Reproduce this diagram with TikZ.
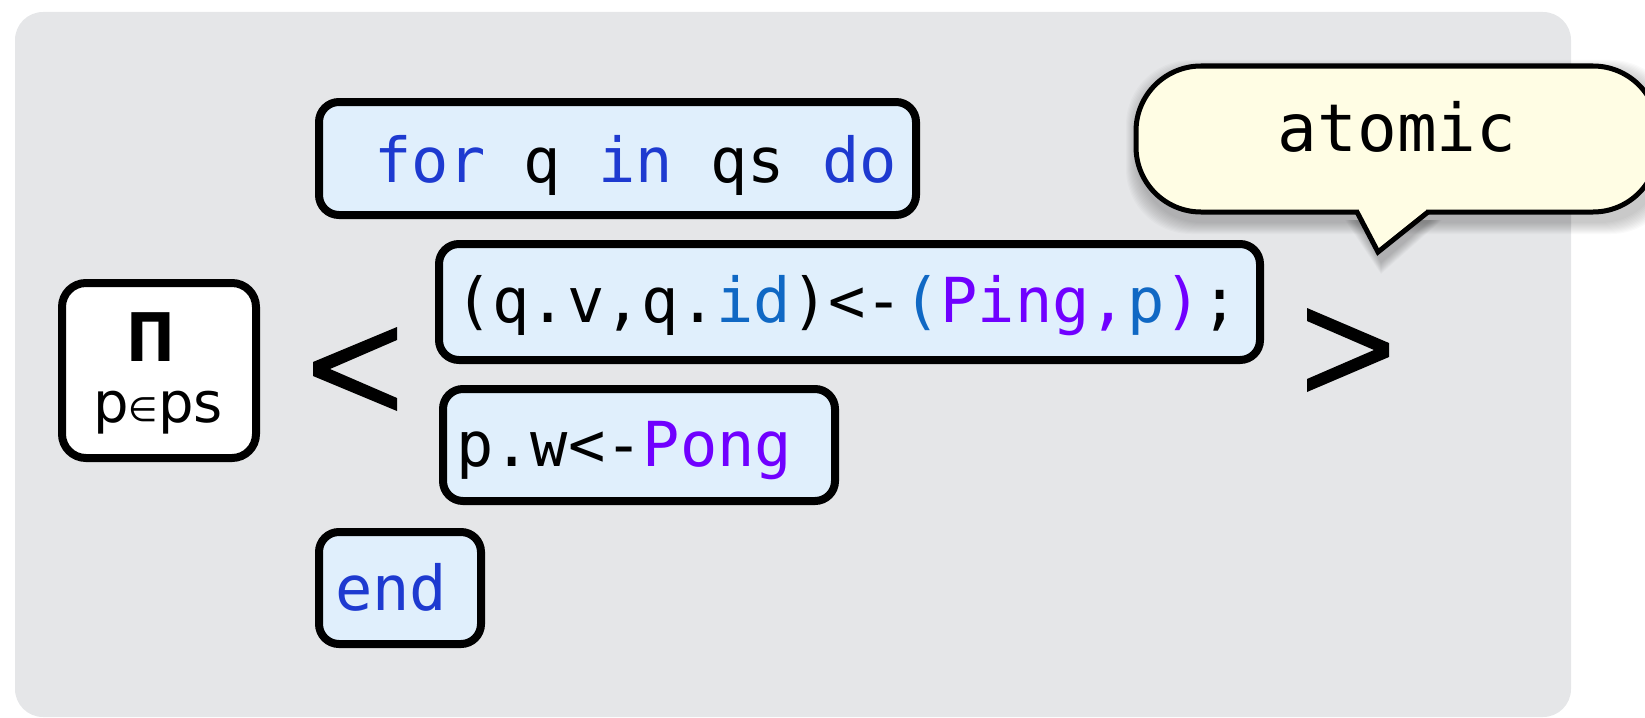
\documentclass[tikz,border=0pt]{standalone}
\usepackage{fontspec}
\usepackage{graphicx}
\newfontfamily\codefont{DejaVu Sans Mono}
\newfontfamily\labelfont{DejaVu Sans}
\definecolor{bggray}{RGB}{229,230,232}
\definecolor{boxfill}{RGB}{224,239,252}
\definecolor{kwblue}{RGB}{30,58,208}
\definecolor{idblue}{RGB}{16,104,196}
\definecolor{purp}{RGB}{112,0,255}
\definecolor{bubblefill}{RGB}{255,253,228}
\tikzset{
  codebox/.style={draw=black, line width=8pt, fill=boxfill, rounded corners=20pt, inner sep=0pt, outer sep=0pt},
  pibox/.style={draw=black, line width=8pt, fill=white, rounded corners=24pt, inner sep=0pt, outer sep=0pt},
  codetext/.style={anchor=base west, inner sep=0pt, font=\codefont\fontsize{62}{70}\selectfont},
  bubbletext/.style={anchor=base, inner sep=0pt, font=\codefont\fontsize{66}{70}\selectfont},
  chevron/.style={fill=black},
  bubbleline/.style={draw=black, line width=5pt, fill=bubblefill},
}
\begin{document}
\begin{tikzpicture}[x=1pt,y=-1pt]
\useasboundingbox (0,0) rectangle (1645,717);
\clip (0,0) rectangle (1645,717);
% background panel
\fill[bggray, rounded corners=28pt] (15,12) rectangle (1571,717);

% code boxes
\node[codebox, minimum width=597pt, minimum height=113pt] (box1) at (617.5,158.5) {};
\node[codetext] (t1) at (374,182) {\textcolor{kwblue}{for} q \textcolor{kwblue}{in} qs \textcolor{kwblue}{do}};

\node[codebox, minimum width=821pt, minimum height=116pt] (box2) at (849.5,302) {};
\node[codetext] (t2) at (455,322) {(q.v,q.\textcolor{idblue}{id})<-\textcolor{idblue}{(}\textcolor{purp}{Ping,}\textcolor{idblue}{p}\textcolor{purp}{)};};

\node[codebox, minimum width=392pt, minimum height=112pt] (box3) at (639,445) {};
\node[codetext] (t3) at (456,466) {p.w<-\textcolor{purp}{Pong}};

\node[codebox, minimum width=162pt, minimum height=112pt] (box4) at (400,588) {};
\node[codetext] (t4) at (335,610) {\textcolor{kwblue}{end}};

% product box
\node[pibox, minimum width=194pt, minimum height=175pt] (pbox) at (159,370.5) {};
\node[anchor=base, inner sep=0pt, xscale=0.87, font=\labelfont\bfseries\fontsize{67}{70}\selectfont] (pi) at (151,361) {Π};
\node[anchor=base, inner sep=0pt, font=\labelfont\fontsize{56}{60}\selectfont] (pin) at (158,422) {p\raisebox{1pt}{\scalebox{0.6}{∈}}ps};

% angle brackets
\fill[chevron] (397,327) -- (313,362) -- (313,376) -- (397,411) -- (397,398) -- (330,369) -- (397,340) -- cycle;
\fill[chevron] (1307,308) -- (1389,343) -- (1389,357) -- (1307,392) -- (1307,379) -- (1374,350) -- (1307,321) -- cycle;

% bubble shadow
\foreach \i in {1,...,12} {
  \fill[black, opacity=0.018, rounded corners=65pt] (1138-\i,72-\i) rectangle (1664+\i,222+\i);
  \fill[black, opacity=0.018] (1357-\i,220) -- (1381,262+\i) -- (1430+\i,220) -- cycle;
}
% bubble
\draw[bubbleline, rounded corners=65pt] (1136,66) rectangle (1658,212);
\fill[bubblefill] (1359,206) -- (1359,212) -- (1378,251) -- (1426,212) -- (1426,206) -- cycle;
\coordinate (tl) at (1357,212);
\coordinate (tp) at (1378,252);
\coordinate (tr) at (1428,212);
\draw[black, line width=5pt, line join=miter] (tl) -- (tp) -- (tr);
\node[bubbletext] (atomic) at (1397,151) {atomic};
\end{tikzpicture}
\end{document}
